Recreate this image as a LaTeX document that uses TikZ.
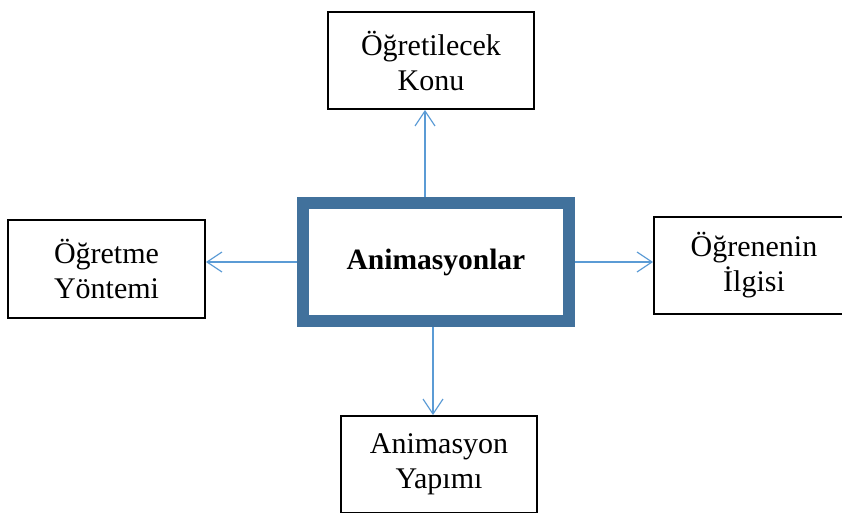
\documentclass[tikz,border=0pt]{standalone}
\usepackage{fontspec}
\setmainfont{Liberation Serif}
\usetikzlibrary{arrows.meta}
\definecolor{mainblue}{HTML}{41719C}
\definecolor{arrowblue}{HTML}{5B9BD5}
\tikzset{
  sidebox/.style={draw=black, line width=1.8pt, fill=white, align=center,
    font=\fontsize{30}{35}\selectfont, inner sep=0pt},
  mainbox/.style={draw=mainblue, line width=12pt, fill=white, align=center,
    font=\fontsize{29.5}{35}\selectfont\bfseries, inner sep=0pt},
  conn/.style={draw=arrowblue, line width=1.2pt,
    -{Straight Barb[length=15pt,width=20pt,line width=1.2pt]}}
}
\begin{document}
\begin{tikzpicture}[x=1pt,y=-1pt]
\useasboundingbox (0,0) rectangle (842,512);
\begin{scope}
\clip (0,0) rectangle (842,512);
\node[mainbox, minimum width=266pt, minimum height=118pt] (c) at (436,262) {Animasyonlar};
\node[sidebox, minimum width=206pt, minimum height=97pt] (top) at (431,60.5) {Öğretilecek\\Konu};
\node[sidebox, minimum width=197pt, minimum height=98pt] (left) at (106.5,269) {Öğretme\\Yöntemi};
\node[sidebox, minimum width=200pt, minimum height=97pt] (right) at (754,265.5) {Öğrenenin\\İlgisi};
\node[sidebox, minimum width=196pt, minimum height=97pt] (bot) at (439,464.5) {Animasyon\\Yapımı};
\draw[conn] ([xshift=-11pt]c.north) -- ([xshift=-11pt]c.north |- top.south);
\draw[conn] (c.west) -- (c.west -| left.east);
\draw[conn] (c.east) -- (c.east -| right.west);
\draw[conn] ([xshift=-3pt]c.south) -- ([xshift=-3pt]c.south |- bot.north);
\end{scope}
\end{tikzpicture}
\end{document}
